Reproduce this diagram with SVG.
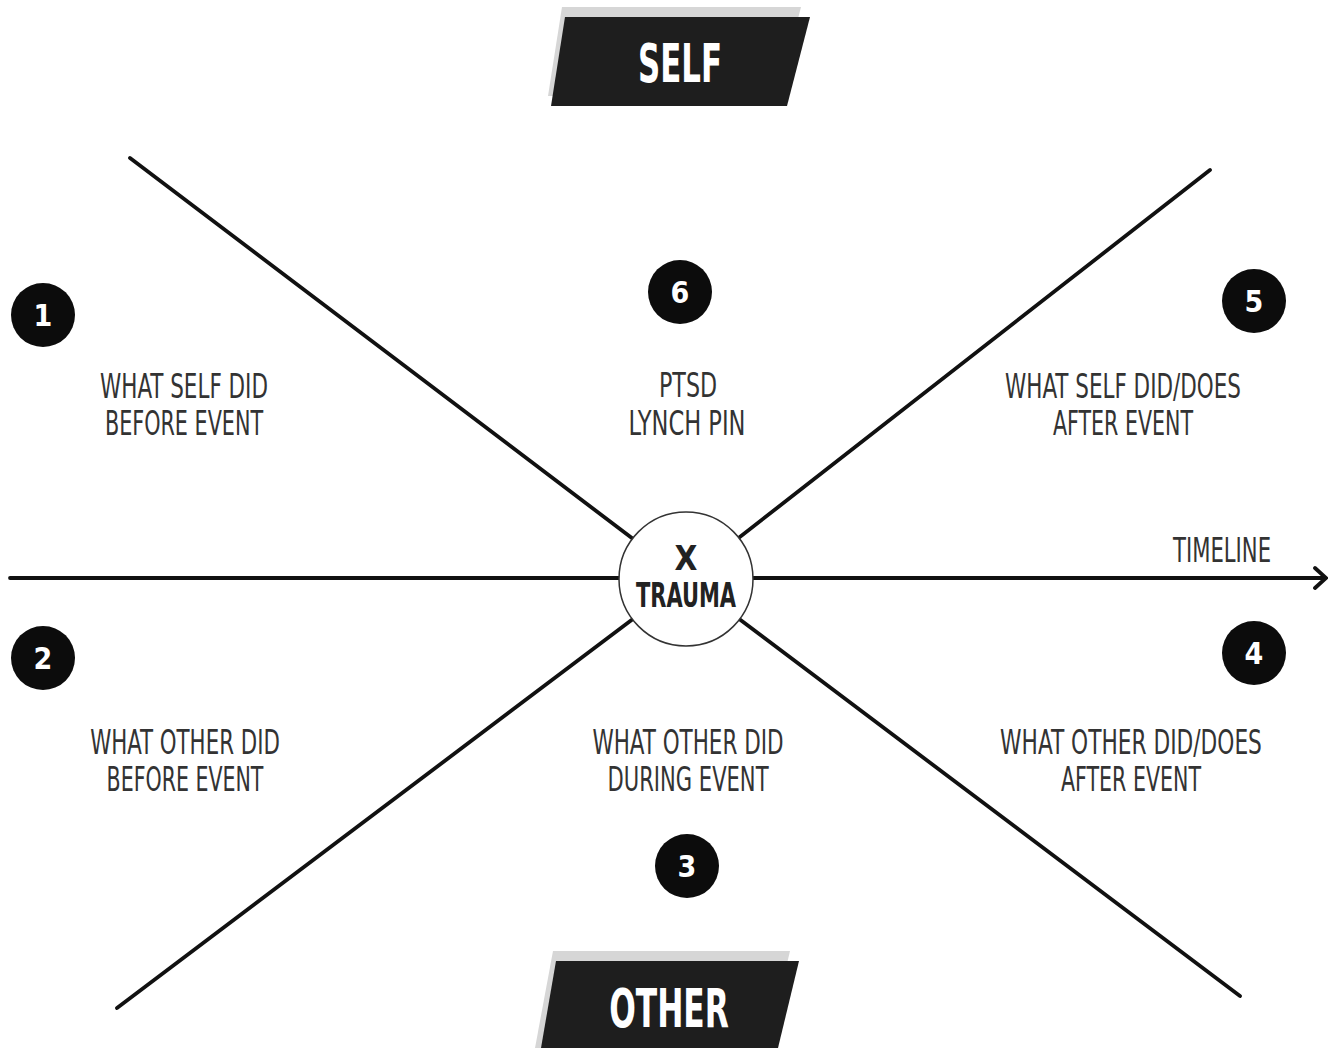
<svg xmlns="http://www.w3.org/2000/svg" width="1328" height="1048" viewBox="0 0 1328 1048">
<style>
.ln{stroke:#111;stroke-width:3.8;fill:none;stroke-linecap:round}
.lbl{font-family:"Liberation Sans Narrow","DejaVu Sans Condensed","Liberation Sans",sans-serif;font-size:33px;fill:#333;text-anchor:middle}
.num{fill:#0c0c0c}
.numt{font-family:"Liberation Sans Narrow","DejaVu Sans Condensed","Liberation Sans",sans-serif;font-size:30px;font-weight:bold;fill:#fff;text-anchor:middle}
.bn{fill:#1e1e1e}
.bs{fill:#d6d6d6}
.bt{font-family:"Liberation Sans Narrow","DejaVu Sans Condensed","Liberation Sans",sans-serif;font-size:54px;font-weight:bold;fill:#fff;text-anchor:middle}
.ct{font-family:"Liberation Sans Narrow","DejaVu Sans Condensed","Liberation Sans",sans-serif;font-size:33px;font-weight:bold;fill:#222;text-anchor:middle}
</style>
<rect width="1328" height="1048" fill="#fff"/>
<g id="connectors">
<line class="ln" x1="10" y1="578" x2="1324" y2="578"/>
<polyline class="ln" points="1315,568 1326,578 1315,588"/>
<line class="ln" x1="130" y1="158" x2="686" y2="579"/>
<line class="ln" x1="1210" y1="170" x2="686" y2="579"/>
<line class="ln" x1="117" y1="1008" x2="686" y2="579"/>
<line class="ln" x1="1240" y1="996" x2="686" y2="579"/>
</g>
<g id="self">
<polygon class="bs" points="562,7 801,7 778,96 548,96"/>
<polygon class="bn" points="565,17 810,17 787,106 551,106"/>
<text class="bt" transform="translate(680 82) scale(0.7 1)" textLength="120" lengthAdjust="spacingAndGlyphs">SELF</text>
</g>
<g id="other">
<polygon class="bs" points="553,951 790,951 767,1048 535,1048"/>
<polygon class="bn" points="556,961 799,961 778,1048 541,1048"/>
<text class="bt" transform="translate(669 1027) scale(0.7 1)" textLength="171" lengthAdjust="spacingAndGlyphs">OTHER</text>
</g>
<g id="trauma">
<circle cx="686" cy="579" r="67" fill="#fff" stroke="#333" stroke-width="1.5"/>
<text class="ct" x="686" y="570">X</text>
<text class="ct" transform="translate(686 607) scale(0.7 1)" textLength="143" lengthAdjust="spacingAndGlyphs">TRAUMA</text>
</g>
<g id="timeline">
<text class="lbl" transform="translate(1222 562) scale(0.7 1)" textLength="140" lengthAdjust="spacingAndGlyphs">TIMELINE</text>
</g>
<g id="n1">
<circle class="num" cx="43" cy="315" r="32"/>
<text class="numt" x="43" y="326">1</text>
<text class="lbl" transform="translate(184 398) scale(0.7 1)" textLength="240" lengthAdjust="spacingAndGlyphs">WHAT SELF DID</text>
<text class="lbl" transform="translate(184 435) scale(0.7 1)" textLength="226" lengthAdjust="spacingAndGlyphs">BEFORE EVENT</text>
</g>
<g id="n2">
<circle class="num" cx="43" cy="658" r="32"/>
<text class="numt" x="43" y="669">2</text>
<text class="lbl" transform="translate(185 754) scale(0.7 1)" textLength="271" lengthAdjust="spacingAndGlyphs">WHAT OTHER DID</text>
<text class="lbl" transform="translate(185 791) scale(0.7 1)" textLength="224" lengthAdjust="spacingAndGlyphs">BEFORE EVENT</text>
</g>
<g id="n3">
<circle class="num" cx="687" cy="866" r="32"/>
<text class="numt" x="687" y="877">3</text>
<text class="lbl" transform="translate(688 754) scale(0.7 1)" textLength="273" lengthAdjust="spacingAndGlyphs">WHAT OTHER DID</text>
<text class="lbl" transform="translate(688 791) scale(0.7 1)" textLength="230" lengthAdjust="spacingAndGlyphs">DURING EVENT</text>
</g>
<g id="n4">
<circle class="num" cx="1254" cy="653" r="32"/>
<text class="numt" x="1254" y="664">4</text>
<text class="lbl" transform="translate(1131 754) scale(0.7 1)" textLength="374" lengthAdjust="spacingAndGlyphs">WHAT OTHER DID/DOES</text>
<text class="lbl" transform="translate(1131 791) scale(0.7 1)" textLength="200" lengthAdjust="spacingAndGlyphs">AFTER EVENT</text>
</g>
<g id="n5">
<circle class="num" cx="1254" cy="301" r="32"/>
<text class="numt" x="1254" y="312">5</text>
<text class="lbl" transform="translate(1123 398) scale(0.7 1)" textLength="337" lengthAdjust="spacingAndGlyphs">WHAT SELF DID/DOES</text>
<text class="lbl" transform="translate(1123 435) scale(0.7 1)" textLength="200" lengthAdjust="spacingAndGlyphs">AFTER EVENT</text>
</g>
<g id="n6">
<circle class="num" cx="680" cy="292" r="32"/>
<text class="numt" x="680" y="303">6</text>
<text class="lbl" transform="translate(688 397) scale(0.7 1)" textLength="83" lengthAdjust="spacingAndGlyphs">PTSD</text>
<text class="lbl" transform="translate(687 435) scale(0.7 1)" textLength="167" lengthAdjust="spacingAndGlyphs">LYNCH PIN</text>
</g>
</svg>
